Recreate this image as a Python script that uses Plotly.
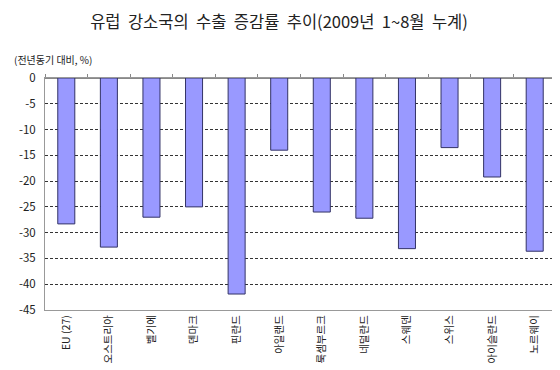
import plotly.graph_objects as go

categories = ["EU (27)", "오스트리아", "벨기에", "덴마크", "핀란드", "아일랜드",
              "룩셈부르크", "네덜란드", "스웨덴", "스위스", "아이슬란드", "노르웨이"]
values = [-28.3, -32.8, -27.0, -25.0, -41.9, -14.0,
          -26.0, -27.2, -33.1, -13.5, -19.2, -33.6]
y_ticks = [0, -5, -10, -15, -20, -25, -30, -35, -40, -45]

FONT = "Noto Sans CJK KR, Noto Sans, sans-serif"

fig = go.Figure()
fig.add_trace(go.Bar(
    x=categories, y=values,
    marker=dict(color="#9999FF", line=dict(color="#333366", width=1)),
    width=0.4, showlegend=False, hoverinfo="x+y",
))
# invisible trace for top tick axis
fig.add_trace(go.Scatter(x=categories, y=[None]*len(categories), xaxis="x2",
                         mode="markers", showlegend=False, hoverinfo="skip"))

fig.update_layout(
    width=560, height=370,
    margin=dict(l=36, r=11, t=70, b=68),
    paper_bgcolor="white", plot_bgcolor="white",
    font=dict(family=FONT, color="#222", size=11),
    title=dict(text="유럽  강소국의  수출  증감률  추이(2009년  1~8월  누계)",
               x=271/560, xanchor="center", y=0.962, yanchor="middle",
               font=dict(size=16.5, color="#222", family=FONT)),
    xaxis=dict(type="category", categoryorder="array", categoryarray=categories,
               showline=True, mirror=True, linecolor="#999", linewidth=1,
               showgrid=False, ticks="", tickangle=-90,
               tickfont=dict(size=10.5, color="#222"), zeroline=False,
               range=[-0.5, len(categories) - 0.5]),
    xaxis2=dict(type="category", categoryorder="array", categoryarray=categories,
                overlaying="x", side="top", anchor="y", showticklabels=False,
                ticks="outside", ticklen=3, tickcolor="#888", tickson="boundaries",
                showgrid=False, showline=False, zeroline=False,
                range=[-0.5, len(categories) - 0.5]),
    yaxis=dict(range=[-45, 0], tickvals=y_ticks, ticktext=[str(v) for v in y_ticks],
               showline=True, mirror=True, linecolor="#999", linewidth=1,
               showgrid=True, gridcolor="#333", griddash="3px,2px", gridwidth=1,
               zeroline=True, zerolinecolor="#888", zerolinewidth=2,
               ticks="", ticklabelstandoff=6,
               tickfont=dict(size=11.5, color="#222")),
    annotations=[dict(text="(전년동기 대비, %)", xref="paper", yref="paper",
                      x=-33/513, y=1 + 19/232, xanchor="left", yanchor="middle",
                      showarrow=False, font=dict(size=10, color="#222", family=FONT))],
)

fig.write_html("out.html")
